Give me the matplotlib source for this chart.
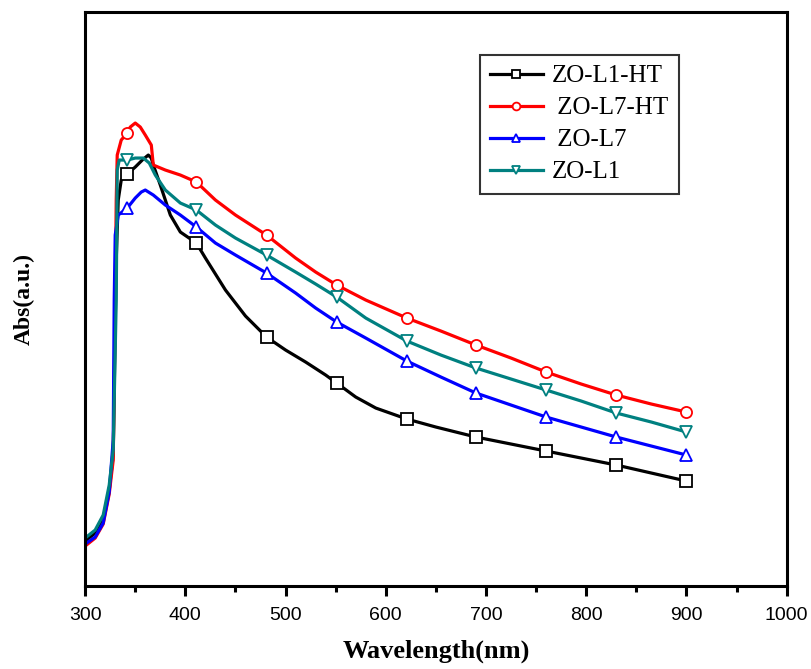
import numpy as np
import matplotlib
matplotlib.use("Agg")
import matplotlib.pyplot as plt
from matplotlib.ticker import MultipleLocator

# absorbance in arbitrary units
wl_l1ht = [300, 310, 318, 324, 328, 331, 333, 336, 342, 350, 357, 363, 366, 368, 375, 385, 395, 411,
           420, 440, 460, 481, 500, 520, 540, 551, 570, 590, 621, 650, 690, 725, 760, 795, 830, 865, 900]
abs_l1ht = [0.45, 0.53, 0.66, 0.96, 1.31, 3.26, 3.86, 4.06, 4.12, 4.19, 4.26, 4.31, 4.28, 4.21, 4.01, 3.71, 3.54, 3.43,
            3.28, 2.96, 2.70, 2.49, 2.36, 2.24, 2.11, 2.03, 1.89, 1.78, 1.67, 1.59, 1.49, 1.42, 1.35, 1.28, 1.21, 1.13, 1.05]
mk_l1ht = [8, 17, 21, 25, 28, 30, 32, 34, 36]

wl_l7ht = [300, 310, 318, 324, 328, 330, 331, 332, 336, 342, 345, 350, 355, 360, 366, 368, 380, 395, 411,
           430, 450, 481, 510, 530, 551, 580, 621, 655, 690, 725, 760, 795, 830, 865, 900]
abs_l7ht = [0.40, 0.48, 0.62, 0.92, 1.26, 2.86, 3.86, 4.31, 4.46, 4.53, 4.59, 4.63, 4.59, 4.51, 4.41, 4.21, 4.16, 4.11, 4.04,
            3.86, 3.71, 3.51, 3.28, 3.14, 3.01, 2.86, 2.68, 2.55, 2.41, 2.28, 2.14, 2.02, 1.91, 1.82, 1.74]
mk_l7ht = [9, 18, 21, 24, 26, 28, 30, 32, 34]

wl_l7 = [300, 310, 318, 324, 328, 329, 330, 333, 342, 350, 356, 360, 368, 380, 395, 411,
         430, 450, 481, 510, 530, 551, 580, 621, 655, 690, 725, 760, 795, 830, 865, 900]
abs_l7 = [0.42, 0.49, 0.63, 0.94, 1.46, 2.86, 3.51, 3.71, 3.78, 3.88, 3.94, 3.96, 3.91, 3.81, 3.71, 3.59,
          3.43, 3.31, 3.13, 2.93, 2.78, 2.64, 2.48, 2.25, 2.09, 1.93, 1.81, 1.69, 1.59, 1.49, 1.40, 1.31]
mk_l7 = [8, 15, 18, 21, 23, 25, 27, 29, 31]

wl_l1 = [300, 310, 318, 324, 328, 331, 332, 334, 342, 350, 358, 364, 370, 380, 395, 411,
         430, 450, 481, 510, 530, 551, 580, 621, 655, 690, 725, 760, 795, 830, 865, 900]
abs_l1 = [0.48, 0.56, 0.71, 1.01, 1.36, 2.86, 4.16, 4.26, 4.26, 4.28, 4.28, 4.23, 4.11, 3.96, 3.83, 3.76,
          3.61, 3.48, 3.31, 3.14, 3.02, 2.89, 2.68, 2.45, 2.31, 2.18, 2.07, 1.96, 1.85, 1.73, 1.64, 1.54]
mk_l1 = [8, 15, 18, 21, 23, 25, 27, 29, 31]

labels = ["ZO-L1-HT", " ZO-L7-HT", " ZO-L7", "ZO-L1"]

fig = plt.figure(figsize=(8.11, 6.69), dpi=100)
ax = fig.add_axes([0.105, 0.124, 0.865, 0.858])

kw = dict(lw=2.3, ms=8, mfc="white", mew=1.3)
ax.plot(wl_l1ht, abs_l1ht, color="black", marker="s", markevery=mk_l1ht, label=labels[0], **kw)
ax.plot(wl_l7ht, abs_l7ht, color="#ff0000", marker="o", markevery=mk_l7ht, label=labels[1], **kw)
ax.plot(wl_l7, abs_l7, color="#0000ff", marker="^", markevery=mk_l7, label=labels[2], **kw)
ax.plot(wl_l1, abs_l1, color="#008080", marker="v", markevery=mk_l1, label=labels[3], **kw)

ax.set_xlim(300, 1000)
ax.set_ylim(0, 5.74)
ax.xaxis.set_major_locator(MultipleLocator(100))
ax.xaxis.set_minor_locator(MultipleLocator(50))
ax.set_yticks([])
ax.tick_params(axis="x", which="major", direction="out", length=7, width=2.2, labelsize=14, pad=8)
ax.tick_params(axis="x", which="minor", direction="out", length=4.5, width=2.2)
for lab in ax.get_xticklabels():
    lab.set_fontfamily("Liberation Sans")
for s in ax.spines.values():
    s.set_linewidth(2.2)

ax.set_xlabel("Wavelength(nm)", fontfamily="Liberation Serif", fontweight="bold", fontsize=19, labelpad=11)
ax.set_ylabel("Abs(a.u.)", fontfamily="Liberation Serif", fontweight="bold", fontsize=17, labelpad=36)

leg = ax.legend(loc="upper left", bbox_to_anchor=(480 / 811, 1 - 55 / 669), bbox_transform=fig.transFigure,
                prop={"family": "Liberation Serif", "size": 18}, fancybox=False, frameon=True,
                edgecolor="black", handlelength=2.1, labelspacing=0.38, borderpad=0.4,
                handletextpad=0.35, borderaxespad=0, markerscale=0.7)
leg.get_frame().set_linewidth(1.5)

fig.savefig("out.png", dpi=100)
